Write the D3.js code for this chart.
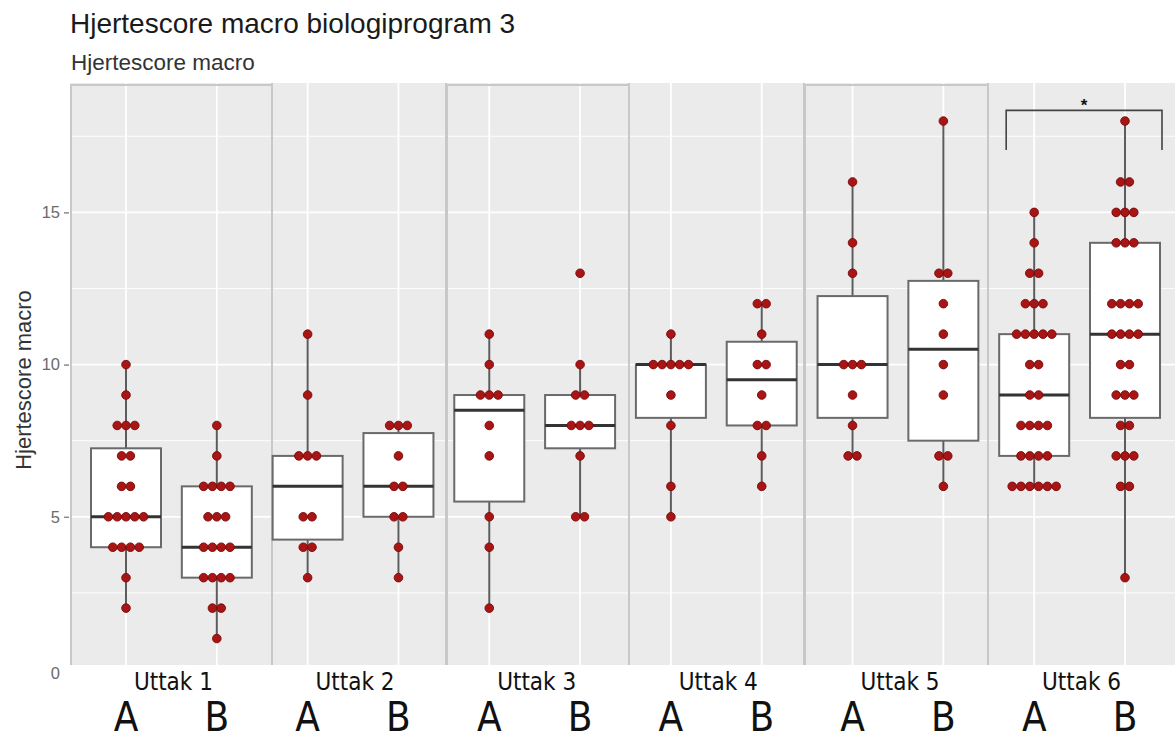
<!DOCTYPE html>
<html>
<head>
<meta charset="utf-8">
<script src="https://cdn.jsdelivr.net/npm/d3@7/dist/d3.min.js"></script>
<style>
  body { margin: 0; background: #fff; }
  svg { display: block; }
</style>
</head>
<body>
<div id="chart"></div>
<script>
/* global d3 */
const width = 1175
const height = 740

// data
const uttak = ['Uttak 1', 'Uttak 2', 'Uttak 3', 'Uttak 4', 'Uttak 5', 'Uttak 6']
const arms = ['A', 'B']

const scoresA1 = [10, 9, 8, 8, 8, 7, 7, 6, 6, 5, 5, 5, 5, 5, 4, 4, 4, 4, 3, 2]
const scoresB1 = [8, 7, 6, 6, 6, 6, 5, 5, 5, 4, 4, 4, 4, 3, 3, 3, 3, 2, 2, 1]
const scoresA2 = [11, 9, 7, 7, 7, 5, 5, 4, 4, 3]
const scoresB2 = [8, 8, 8, 7, 6, 6, 5, 5, 4, 3]
const scoresA3 = [11, 10, 9, 9, 9, 8, 7, 5, 4, 2]
const scoresB3 = [13, 10, 9, 9, 8, 8, 8, 7, 5, 5]
const scoresA4 = [11, 10, 10, 10, 10, 10, 9, 8, 6, 5]
const scoresB4 = [12, 12, 11, 10, 10, 9, 8, 8, 7, 6]
const scoresA5 = [16, 14, 13, 10, 10, 10, 9, 8, 7, 7]
const scoresB5 = [18, 13, 13, 12, 11, 10, 9, 7, 7, 6]
const scoresA6 = [15, 14, 13, 13, 12, 12, 12, 11, 11, 11, 11, 11, 10, 10, 9, 9, 8, 8, 8, 8, 7, 7, 7, 7, 6, 6, 6, 6, 6, 6]
const scoresB6 = [18, 16, 16, 15, 15, 15, 14, 14, 14, 12, 12, 12, 12, 11, 11, 11, 11, 10, 10, 9, 9, 9, 8, 8, 7, 7, 7, 6, 6, 3]

// box statistics as drawn (A1, B1, A2, B2, ...)
const q1 = [4, 3, 4.25, 5, 5.5, 7.25, 8.25, 8, 8.25, 7.5, 7, 8.25]
const median = [5, 4, 6, 6, 8.5, 8, 10, 9.5, 10, 10.5, 9, 11]
const q3 = [7.25, 6, 7, 7.75, 9, 9, 10, 10.75, 12.25, 12.75, 11, 14]
const whiskerLow = [2, 1, 3, 3, 2, 5, 5, 6, 7, 6, 6, 3]
const whiskerHigh = [10, 8, 11, 8, 11, 10, 11, 12, 16, 18, 15, 18]

const yTicks = [0, 5, 10, 15]
const yMinorTicks = [2.5, 7.5, 12.5, 17.5]
const signif = { from: 'Uttak 6 A', to: 'Uttak 6 B', label: '*', level: 18.35, drop: 17.05 }

const allScores = [scoresA1, scoresB1, scoresA2, scoresB2, scoresA3, scoresB3,
  scoresA4, scoresB4, scoresA5, scoresB5, scoresA6, scoresB6]
const keys = uttak.flatMap((u) => arms.map((a) => `${u} ${a}`))

const boxes = keys.map((key, i) => ({
  key,
  arm: arms[i % 2],
  q1: q1[i],
  median: median[i],
  q3: q3[i],
  lo: whiskerLow[i],
  hi: whiskerHigh[i],
  scores: allScores[i]
}))

// layout
const panelLeft = 70
const panelRight = 1175
const panelTop = 83
const panelBottom = 665
const frameEdges = [70, 272, 446, 629, 804, 988, 1175]
const boxWidth = 70
const dotR = 4.3
const dotStep = 8.8
const sans = 'Liberation Sans, Arial, sans-serif'
const narrow = 'Liberation Sans Narrow, DejaVu Sans Condensed, Arial Narrow, sans-serif'

const x = d3.scalePoint().domain(keys).range([126, 1125])
const y = d3.scaleLinear().domain([0, 19.25]).range([669, 83])

const svg = d3.select('#chart')
  .append('svg')
  .attr('width', width)
  .attr('height', height)
  .style('background', '#fff')

svg.append('rect')
  .attr('x', panelLeft)
  .attr('y', panelTop)
  .attr('width', panelRight - panelLeft)
  .attr('height', panelBottom - panelTop)
  .attr('fill', '#ebebeb')

const grid = svg.append('g')
grid.selectAll('line.minor')
  .data(yMinorTicks)
  .enter()
  .append('line')
  .attr('class', 'minor')
  .attr('x1', panelLeft)
  .attr('x2', panelRight)
  .attr('y1', (d) => y(d))
  .attr('y2', (d) => y(d))
  .attr('stroke', '#fff')
  .attr('stroke-width', 0.9)

grid.selectAll('line.major')
  .data(yTicks.filter((d) => y(d) < panelBottom))
  .enter()
  .append('line')
  .attr('class', 'major')
  .attr('x1', panelLeft)
  .attr('x2', panelRight)
  .attr('y1', (d) => y(d))
  .attr('y2', (d) => y(d))
  .attr('stroke', '#fff')
  .attr('stroke-width', 1.8)

grid.selectAll('line.vert')
  .data(keys)
  .enter()
  .append('line')
  .attr('class', 'vert')
  .attr('x1', (d) => x(d))
  .attr('x2', (d) => x(d))
  .attr('y1', panelTop)
  .attr('y2', panelBottom)
  .attr('stroke', '#fff')
  .attr('stroke-width', 1.8)

// stitched panel frames
svg.append('g')
  .selectAll('line')
  .data(frameEdges.slice(1, -1))
  .enter()
  .append('line')
  .attr('x1', (d) => d)
  .attr('x2', (d) => d)
  .attr('y1', panelTop)
  .attr('y2', panelBottom)
  .attr('stroke', '#c8c8c8')
  .attr('stroke-width', 2)

svg.append('g')
  .selectAll('path')
  .data([0, 2, 4])
  .enter()
  .append('path')
  .attr('d', (i) => `M${frameEdges[i] + 1},${panelBottom}V${panelTop + 2}H${frameEdges[i + 1]}`)
  .attr('fill', 'none')
  .attr('stroke', '#c8c8c8')
  .attr('stroke-width', 2)

// boxes
const boxG = svg.selectAll('g.box')
  .data(boxes)
  .enter()
  .append('g')
  .attr('class', 'box')

boxG.append('line')
  .attr('x1', (d) => x(d.key))
  .attr('x2', (d) => x(d.key))
  .attr('y1', (d) => y(d.lo))
  .attr('y2', (d) => y(d.hi))
  .attr('stroke', '#5c5c5c')
  .attr('stroke-width', 2)

boxG.append('rect')
  .attr('x', (d) => x(d.key) - boxWidth / 2)
  .attr('y', (d) => y(d.q3))
  .attr('width', boxWidth)
  .attr('height', (d) => y(d.q1) - y(d.q3))
  .attr('fill', '#fff')
  .attr('stroke', '#6a6a6a')
  .attr('stroke-width', 2)

boxG.append('line')
  .attr('x1', (d) => x(d.key) - boxWidth / 2)
  .attr('x2', (d) => x(d.key) + boxWidth / 2)
  .attr('y1', (d) => y(d.median))
  .attr('y2', (d) => y(d.median))
  .attr('stroke', '#333')
  .attr('stroke-width', 3)

// dots, stacked sideways per value
boxG.each(function (d) {
  const counts = d3.rollups(d.scores, (v) => v.length, (v) => v)
  const dots = counts.flatMap(([value, n]) =>
    d3.range(n).map((k) => ({ value, offset: (k - (n - 1) / 2) * dotStep })))
  d3.select(this).selectAll('circle')
    .data(dots)
    .enter()
    .append('circle')
    .attr('cx', (p) => x(d.key) + p.offset)
    .attr('cy', (p) => y(p.value))
    .attr('r', dotR)
    .attr('fill', '#a91515')
    .attr('stroke', '#760808')
    .attr('stroke-width', 0.9)
})

// significance bracket
const bx1 = x(signif.from) - 28
const bx2 = x(signif.to) + 37
svg.append('path')
  .attr('d', `M${bx1},${y(signif.drop)}V${y(signif.level)}H${bx2}V${y(signif.drop)}`)
  .attr('fill', 'none')
  .attr('stroke', '#444')
  .attr('stroke-width', 1.6)
svg.append('text')
  .attr('x', (bx1 + bx2) / 2)
  .attr('y', y(signif.level) + 1)
  .attr('text-anchor', 'middle')
  .attr('font-family', sans)
  .attr('font-size', 17)
  .attr('font-weight', 'bold')
  .attr('fill', '#111')
  .text(signif.label)

// white strip under the panel (pasted labels)
svg.append('rect')
  .attr('x', 0)
  .attr('y', panelBottom)
  .attr('width', width)
  .attr('height', height - panelBottom)
  .attr('fill', '#fff')

// y axis
const yAxis = svg.append('g')
  .attr('transform', `translate(${panelLeft - 1},0)`)
  .call(d3.axisLeft(y).tickValues(yTicks).tickSize(5).tickPadding(4))
yAxis.select('.domain').remove()
yAxis.selectAll('.tick line')
  .attr('stroke', '#8a8a8a')
  .attr('stroke-width', 1.5)
  .filter((d) => d === 0).remove()
yAxis.selectAll('.tick text')
  .attr('font-family', sans)
  .attr('font-size', 16.5)
  .attr('fill', '#6b6b6b')
yAxis.selectAll('.tick')
  .filter((d) => d === 0)
  .select('text')
  .attr('dy', '0.6em')

svg.append('text')
  .attr('transform', `translate(31, 380) rotate(-90)`)
  .attr('text-anchor', 'middle')
  .attr('font-family', sans)
  .attr('font-size', 22)
  .attr('fill', '#333')
  .text('Hjertescore macro')

// titles
svg.append('text')
  .attr('x', 70)
  .attr('y', 33)
  .attr('font-family', sans)
  .attr('font-size', 28)
  .attr('fill', '#1a1a1a')
  .text('Hjertescore macro biologiprogram 3')

svg.append('text')
  .attr('x', 71)
  .attr('y', 70)
  .attr('font-family', sans)
  .attr('font-size', 22.5)
  .attr('fill', '#333')
  .text('Hjertescore macro')

// bottom labels
svg.append('g')
  .selectAll('text')
  .data(uttak)
  .enter()
  .append('text')
  .attr('x', (u) => (x(`${u} A`) + x(`${u} B`)) / 2 + 2)
  .attr('y', 690)
  .attr('text-anchor', 'middle')
  .attr('font-family', narrow)
  .attr('font-size', 24)
  .attr('fill', '#111')
  .text((u) => u)

svg.append('g')
  .selectAll('text')
  .data(boxes)
  .enter()
  .append('text')
  .attr('x', (d) => x(d.key))
  .attr('y', 731)
  .attr('text-anchor', 'middle')
  .attr('font-family', narrow)
  .attr('font-size', 40)
  .attr('fill', '#111')
  .text((d) => d.arm)
</script>
</body>
</html>
